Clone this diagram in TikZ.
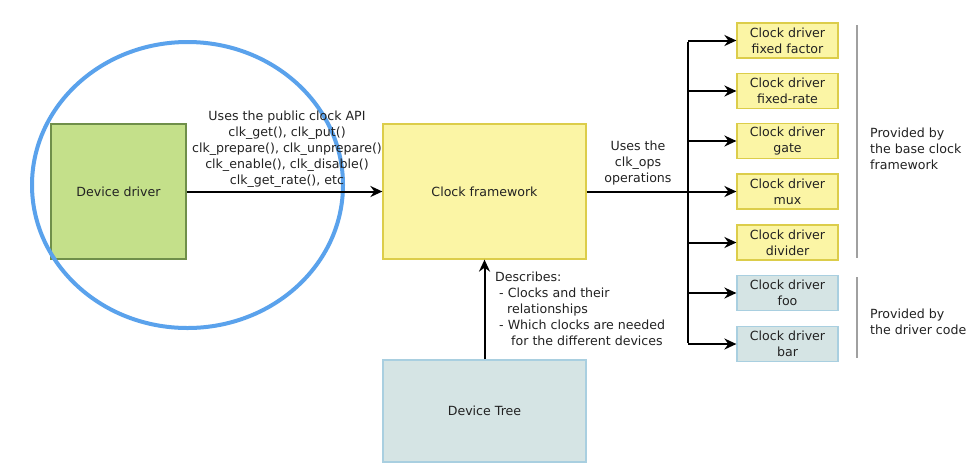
\documentclass[tikz,border=0pt]{standalone}
\usepackage{fontspec}
\setmainfont{DejaVu Sans}
\usetikzlibrary{arrows.meta}
\definecolor{ddfill}{HTML}{C4E08A}
\definecolor{dddraw}{HTML}{6F8F4A}
\definecolor{yfill}{HTML}{FBF5A5}
\definecolor{ydraw}{HTML}{DCCD4A}
\definecolor{bfill}{HTML}{D5E4E4}
\definecolor{bdraw}{HTML}{A9CFE0}
\definecolor{circ}{HTML}{5AA2EC}
\definecolor{sep}{HTML}{A0A0A0}
\definecolor{txt}{HTML}{222222}
\begin{document}
\begin{tikzpicture}[x=1pt,y=-1pt,
  font=\fontsize{12.6}{16}\selectfont, text=txt,
  bigbox/.style={draw=#1, line width=1.2pt, minimum width=203pt, inner sep=0pt},
  drvbox/.style={draw=#1, line width=1.2pt, minimum width=101pt, minimum height=35pt, inner sep=0pt, align=center},
  conn/.style={line width=2pt, -{Stealth[length=12pt,width=11pt]}},
  plain/.style={line width=2pt},
  lbl/.style={align=center, inner sep=0pt}]
\useasboundingbox (0,0) rectangle (976,475);
\fill[white] (0,0) rectangle (976,475);

% main boxes
\node[draw=dddraw, fill=ddfill, line width=1.2pt, minimum width=135pt, minimum height=135pt, inner sep=0pt] (dd) at (118.5,191.5) {Device driver};
\node[bigbox=ydraw, fill=yfill, minimum height=135pt] (cf) at (484.5,191.5) {Clock framework};
\node[bigbox=bdraw, fill=bfill, minimum height=102pt] (dt) at (484.5,411) {Device Tree};

% blue circle
\draw[circ, line width=4pt] (187.5,185) ellipse [x radius=155.5, y radius=143];

% arrows
\draw[conn] (dd.east) -- (cf.west);
\node[lbl] (api) at (287,149) {Uses the public clock API\\clk\_get(), clk\_put()\\clk\_prepare(), clk\_unprepare()\\clk\_enable(), clk\_disable()\\clk\_get\_rate(), etc};
\draw[conn] (dt.north) -- (cf.south);
\node[lbl, align=left, anchor=north west] (desc) at (495,272) {Describes:\\\ - Clocks and their\\\ \ \ relationships\\\ - Which clocks are needed\\\ \ \ \ for the different devices};

% driver boxes
\node[drvbox=ydraw, fill=yfill] (d1) at (787.5,40.5) {Clock driver\\fixed factor};
\node[drvbox=ydraw, fill=yfill] (d2) at (787.5,91) {Clock driver\\fixed-rate};
\node[drvbox=ydraw, fill=yfill] (d3) at (787.5,141) {Clock driver\\gate};
\node[drvbox=ydraw, fill=yfill] (d4) at (787.5,191.5) {Clock driver\\mux};
\node[drvbox=ydraw, fill=yfill] (d5) at (787.5,242.5) {Clock driver\\divider};
\node[drvbox=bdraw, fill=bfill] (d6) at (787.5,293) {Clock driver\\foo};
\node[drvbox=bdraw, fill=bfill] (d7) at (787.5,344) {Clock driver\\bar};

\coordinate (tr) at (688,191.5);
\coordinate (ttop) at (688,40.5);
\coordinate (tbot) at (688,344);
\draw[plain] (cf.east) -- (tr);
\draw[plain] ([yshift=-1pt]ttop) -- ([yshift=1pt]tbot);
\foreach \n in {d1,d2,d3,d4,d5,d6,d7}{
  \draw[conn] (\n.west -| tr) -- (\n.west);
}
\node[lbl] (ops) at (638,163) {Uses the\\clk\_ops\\operations};

% separators
\coordinate (s1a) at (857,25);
\coordinate (s1b) at (857,258);
\coordinate (s2a) at (857,277);
\coordinate (s2b) at (857,358);
\draw[sep, line width=1.2pt] (s1a) -- (s1b);
\draw[sep, line width=1.2pt] (s2a) -- (s2b);
\node[lbl, align=left, anchor=west] (p1) at (870,149) {Provided by\\the base clock\\framework};
\node[lbl, align=left, anchor=west] (p2) at (870,322) {Provided by\\the driver code};
\end{tikzpicture}
\end{document}
